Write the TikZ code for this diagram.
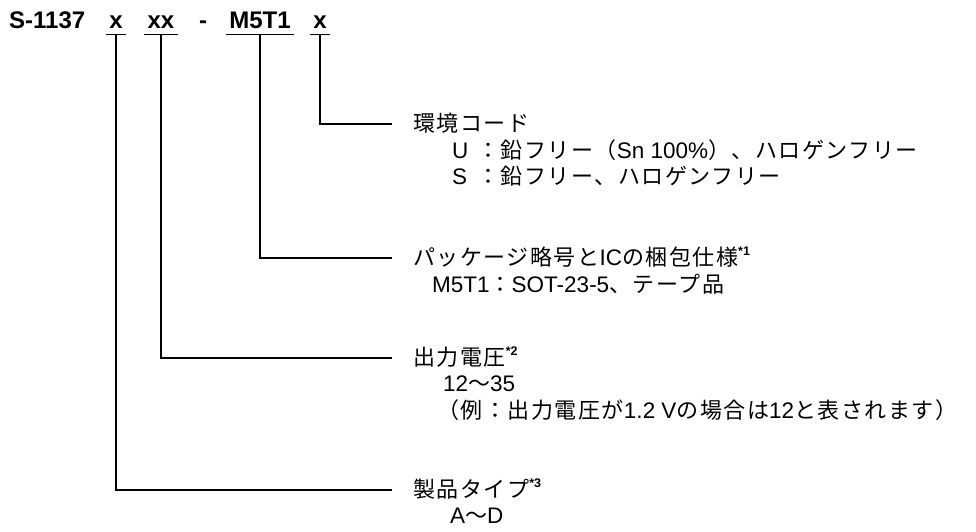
\documentclass[tikz,border=0pt]{standalone}
\usepackage{fontspec}
\setmainfont{Liberation Sans}
\newfontfamily\jpfont[LetterSpace=7]{Noto Sans CJK JP}
\usetikzlibrary{positioning}

\newcommand\ja[1]{{\jpfont\fontsize{22}{24}\selectfont #1}}
\newcommand\fnmark[1]{\raisebox{0.42em}{\fontsize{12.5}{12.5}\selectfont\bfseries *#1}}

\tikzset{
	code/.style={font=\fontsize{24}{24}\selectfont\bfseries, inner xsep=3pt, inner ysep=6pt, anchor=base},
	title/.style={anchor=west, inner xsep=21pt, inner ysep=0pt, text height=16pt, text depth=2pt, font=\fontsize{22.5}{24}\selectfont},
	item/.style={anchor=west, inner sep=0pt, text height=16pt, text depth=2pt, font=\fontsize{22.5}{24}\selectfont},
	wire/.style={line width=1.3pt},
}

\begin{document}
\begin{tikzpicture}[x=1pt,y=-1pt]
	\useasboundingbox (0,0) rectangle (976,531);
	% part number
	\node[code, anchor=base west, inner xsep=0pt] (part) at (9,28) {S-1137};
	\node[code] (cA) at (116,28) {x};
	\node[code] (cB) at (161,28) {xx};
	\node[code] (dash) at (203,28) {-};
	\node[code] (cC) at (260,28) {M5T1};
	\node[code] (cD) at (320,28) {x};
	% titles
	\node[title] (env) at (392,124) {\ja{環境コード}};
	\node[title] (pkg) at (392,258) {\ja{パッケージ略号と}IC\ja{の梱包仕様}\fnmark{1}};
	\node[title] (volt) at (392,358) {\ja{出力電圧}\fnmark{2}};
	\node[title] (type) at (392,490) {\ja{製品タイプ}\fnmark{3}};
	% details
	\node[item] (envU) at (452,151) {U};
	\node[item] (envUtxt) at (477,151) {\ja{：鉛フリー（}Sn 100\%\ja{）、ハロゲンフリー}};
	\node[item] (envS) at (452,177) {S};
	\node[item] (envStxt) at (477,177) {\ja{：鉛フリー、ハロゲンフリー}};
	\node[item] (pkgM) at (432,285) {M5T1\ja{：}SOT-23-5\ja{、テープ品}};
	\node[item] (voltR) at (443,384) {12\ja{～}35};
	\node[item] (voltEx) at (437,411) {\ja{（例：出力電圧が}1.2 V\ja{の場合は}12\ja{と表されます）}};
	\node[item] (typeR) at (450,516) {A\ja{～}D};
	% underlines
	\foreach \c in {cA,cB,cC,cD}
		\draw[wire] (\c.south west) -- (\c.south east);
	% leaders
	\draw[wire] (cD.south) |- (env.west);
	\draw[wire] (cC.south) |- (pkg.west);
	\draw[wire] (cB.south) |- (volt.west);
	\draw[wire] (cA.south) |- (type.west);
\end{tikzpicture}
\end{document}
